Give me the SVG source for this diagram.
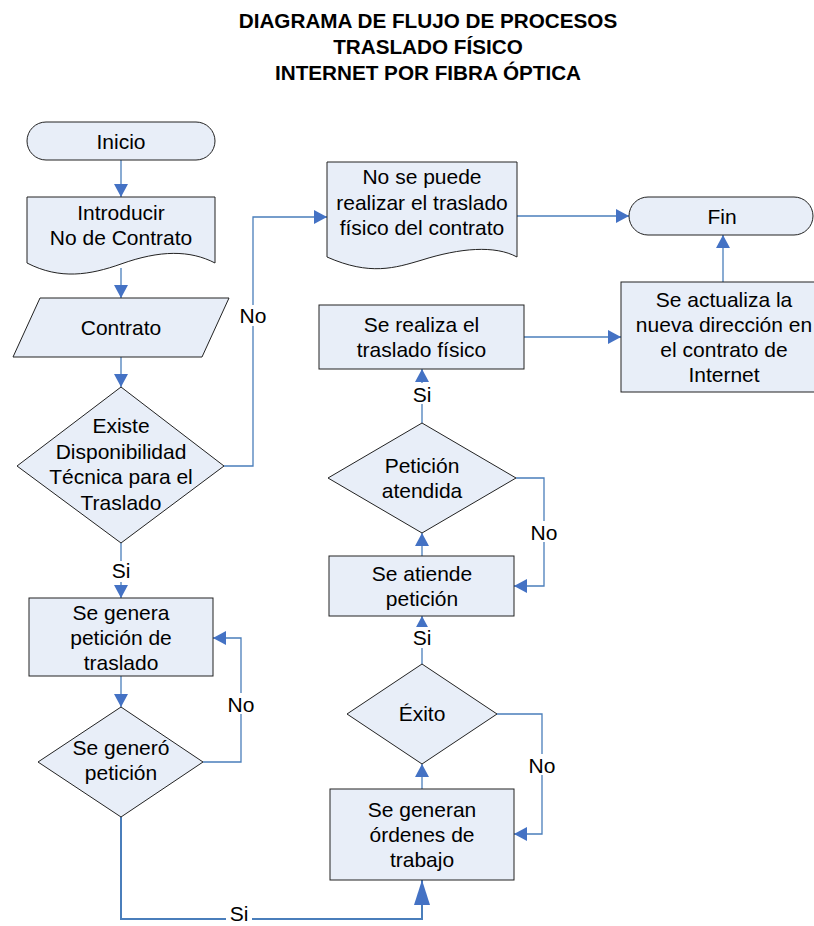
<svg xmlns="http://www.w3.org/2000/svg" width="814" height="926" viewBox="0 0 814 926">
<defs>
<style>
.n{fill:#e8eef8;stroke:#222;stroke-width:1}
.t{font-family:"Liberation Sans",Arial,sans-serif;font-size:21px;fill:#000;text-anchor:middle}
.h{font-family:"Liberation Sans",Arial,sans-serif;font-size:20.7px;font-weight:bold;fill:#000;text-anchor:middle}
.c{fill:none;stroke:#4a7ebb;stroke-width:1.3}
.ck{fill:none;stroke:#4a7ebb;stroke-width:2}
.lb{fill:#fff}
</style>
<marker id="a" markerUnits="userSpaceOnUse" markerWidth="13" markerHeight="14" refX="13" refY="7" orient="auto" viewBox="0 0 13 14">
<path d="M0,0 L13,7 L0,14 z" fill="#4472c4"/>
</marker>
<marker id="ab" markerUnits="userSpaceOnUse" markerWidth="25" markerHeight="16" refX="25" refY="8" orient="auto" viewBox="0 0 25 16">
<path d="M0,0 L25,8 L0,16 z" fill="#4472c4"/>
</marker>
</defs>
<rect width="814" height="926" fill="#fff"/>
<g id="title">
<text class="h" x="428" y="28">DIAGRAMA DE FLUJO DE PROCESOS</text>
<text class="h" x="428" y="54">TRASLADO FÍSICO</text>
<text class="h" x="428" y="80">INTERNET POR FIBRA ÓPTICA</text>
</g>
<g id="connectors">
<path class="c" d="M121,160 V197" marker-end="url(#a)"/>
<path class="c" d="M121,268 V298" marker-end="url(#a)"/>
<path class="c" d="M121,357 V387" marker-end="url(#a)"/>
<path class="c" d="M224,466 H253 V217 H327" marker-end="url(#a)"/>
<path class="c" d="M121,543 V598" marker-end="url(#a)"/>
<path class="c" d="M121,676 V707" marker-end="url(#a)"/>
<path class="c" d="M203,762 H241 V638 H213" marker-end="url(#a)"/>
<path class="ck" d="M121,817 V919 H422 V880" marker-end="url(#ab)"/>
<path class="c" d="M422,789 V764" marker-end="url(#a)"/>
<path class="c" d="M497,714 H542 V834 H514" marker-end="url(#a)"/>
<path class="c" d="M422,664 V616" marker-end="url(#a)"/>
<path class="c" d="M422,556 V533" marker-end="url(#a)"/>
<path class="c" d="M516,478 H544 V586 H514" marker-end="url(#a)"/>
<path class="c" d="M422,423 V369" marker-end="url(#a)"/>
<path class="c" d="M524,337 H621" marker-end="url(#a)"/>
<path class="c" d="M723,282 V235" marker-end="url(#a)"/>
<path class="c" d="M517,216 H629" marker-end="url(#a)"/>
<rect class="lb" x="238" y="305" width="30" height="21"/>
<text class="t" x="253" y="323">No</text>
<rect class="lb" x="108" y="561" width="26" height="21"/>
<text class="t" x="121" y="578">Si</text>
<rect class="lb" x="226" y="693" width="30" height="21"/>
<text class="t" x="241" y="712">No</text>
<rect class="lb" x="226" y="905" width="26" height="21"/>
<text class="t" x="239" y="921">Si</text>
<rect class="lb" x="527" y="754" width="30" height="21"/>
<text class="t" x="542" y="773">No</text>
<rect class="lb" x="409" y="627" width="26" height="21"/>
<text class="t" x="422" y="645">Si</text>
<rect class="lb" x="529" y="521" width="30" height="21"/>
<text class="t" x="544" y="540">No</text>
<rect class="lb" x="409" y="383" width="26" height="21"/>
<text class="t" x="422" y="402">Si</text>
</g>
<g id="inicio">
<rect class="n" x="27" y="122" width="188" height="38" rx="19"/>
<text class="t" x="121" y="148.5">Inicio</text>
</g>
<g id="introducir">
<path class="n" d="M27,197 H215 V263 C190,250 160,250 121,264 C90,275 60,280 27,263 Z"/>
<text class="t" x="121" y="220">Introducir</text>
<text class="t" x="121" y="245">No de Contrato</text>
</g>
<g id="contrato">
<path class="n" d="M40,298 H229 L202,357 H13 Z"/>
<text class="t" x="121" y="335">Contrato</text>
</g>
<g id="existe">
<path class="n" d="M121,387 L224,466 L121,543 L17,466 Z"/>
<text class="t" x="121" y="433">Existe</text>
<text class="t" x="121" y="458.5">Disponibilidad</text>
<text class="t" x="121" y="484">Técnica para el</text>
<text class="t" x="121" y="509.5">Traslado</text>
</g>
<g id="genera">
<rect class="n" x="29" y="598" width="184" height="78"/>
<text class="t" x="121" y="619.5">Se genera</text>
<text class="t" x="121" y="644.5">petición de</text>
<text class="t" x="121" y="669.5">traslado</text>
</g>
<g id="genero">
<path class="n" d="M121,707 L203,762 L121,817 L38,762 Z"/>
<text class="t" x="121" y="755">Se generó</text>
<text class="t" x="121" y="780">petición</text>
</g>
<g id="ordenes">
<rect class="n" x="330" y="789" width="184" height="91"/>
<text class="t" x="422" y="817">Se generan</text>
<text class="t" x="422" y="842">órdenes de</text>
<text class="t" x="422" y="867">trabajo</text>
</g>
<g id="exito">
<path class="n" d="M422,664 L497,714 L422,764 L347,714 Z"/>
<text class="t" x="422" y="721">Éxito</text>
</g>
<g id="atiende">
<rect class="n" x="329" y="556" width="185" height="60"/>
<text class="t" x="422" y="581">Se atiende</text>
<text class="t" x="422" y="606">petición</text>
</g>
<g id="atendida">
<path class="n" d="M422,423 L516,478 L422,533 L328,478 Z"/>
<text class="t" x="422" y="473">Petición</text>
<text class="t" x="422" y="498">atendida</text>
</g>
<g id="realiza">
<rect class="n" x="319" y="305" width="205" height="64"/>
<text class="t" x="421.5" y="332">Se realiza el</text>
<text class="t" x="421.5" y="357">traslado físico</text>
</g>
<g id="nopuede">
<path class="n" d="M327,162 H517 V257 C495,245 460,248 422,260 C395,268 370,276 327,257 Z"/>
<text class="t" x="422" y="184">No se puede</text>
<text class="t" x="422" y="210">realizar el traslado</text>
<text class="t" x="422" y="235">físico del contrato</text>
</g>
<g id="actualiza">
<rect class="n" x="621" y="282" width="206" height="110"/>
<text class="t" x="724" y="307">Se actualiza la</text>
<text class="t" x="724" y="332">nueva dirección en</text>
<text class="t" x="724" y="357">el contrato de</text>
<text class="t" x="724" y="382">Internet</text>
</g>
<g id="fin">
<rect class="n" x="629" y="197" width="184" height="38" rx="19"/>
<text class="t" x="722" y="223.5">Fin</text>
</g>
</svg>
